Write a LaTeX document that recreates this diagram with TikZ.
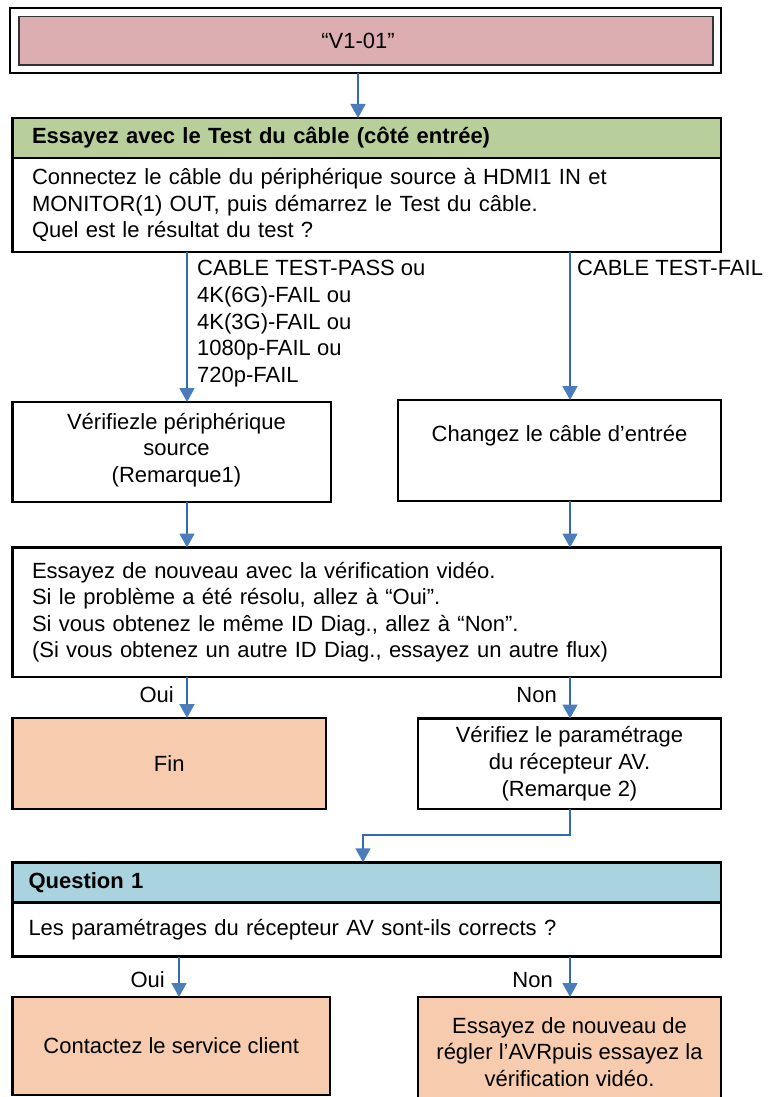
\documentclass[tikz,border=0pt]{standalone}
\usepackage{fontspec}
\setmainfont{Liberation Sans}
\usetikzlibrary{arrows.meta,calc}

\definecolor{flowline}{HTML}{2F6DAE}
\definecolor{flowtip}{HTML}{4A7DBA}
\definecolor{headpink}{HTML}{DDAEB1}
\definecolor{headgreen}{HTML}{B8CE9B}
\definecolor{headcyan}{HTML}{A9D3DF}
\definecolor{endpeach}{HTML}{F7CBAD}

\begin{document}
\begin{tikzpicture}[x=1pt,y=-1pt,
  font=\fontsize{22}{26.6}\selectfont,
  box/.style={draw=black,line width=2.6pt,inner sep=0pt,outer sep=0pt,align=center},
  leftbox/.style={box,inner xsep=19.5pt,text width=669.5pt,align=left},
  qbox/.style={box,inner xsep=16pt,text width=676.5pt,align=left},
  arr/.style={draw=flowline,line width=1.8pt,-{Triangle[width=15pt,length=14pt,color=flowtip]}},
  lbl/.style={inner sep=0pt,align=left}
]
\clip (0,0) rectangle (769,1097);
\fill[white] (0,0) rectangle (769,1097);

% connector columns
\coordinate (cT) at (358,0);
\coordinate (cL) at (187,0);
\coordinate (cR) at (570,0);
\coordinate (cQ) at (363,0);
\coordinate (cB) at (179,0);
\coordinate (bend) at (0,835);

% start code box (double frame)
\node[box,minimum width=711pt,minimum height=65pt] (top) at (365.5,40.5) {};
\node[draw=black!80,line width=1.4pt,fill=headpink,inner sep=0pt,
      minimum width=694pt,minimum height=48.3pt] (topin) at (366,40.85) {};
\node[inner sep=0pt] (code) at (358,41) {“V1-01”};

% cable test block
\node[leftbox,fill=headgreen,minimum height=40pt,font=\fontsize{22}{26.6}\selectfont\bfseries]
  (hdr) at (366.75,138) {Essayez avec le Test du câble (côté entrée)};
\node[leftbox,minimum height=94pt] (body) at (366.75,205)
  {Connectez le câble du périphérique source à HDMI1 IN et\\
   MONITOR(1) OUT, puis démarrez le Test du câble.\\
   Quel est le résultat du test ?};

% outcomes of the cable test
\node[lbl,anchor=north west] (passlbl) at (197,260.3)
  {CABLE TEST-PASS ou\\4K(6G)-FAIL ou\\4K(3G)-FAIL ou\\1080p-FAIL ou\\720p-FAIL};
\node[lbl,anchor=north west] (faillbl) at (577,260.3) {CABLE TEST-FAIL};

\node[box,minimum width=318.5pt,minimum height=100pt] (lbox) at (171.75,452) {};
\node[inner sep=0pt,align=center] (lboxtext) at (176.5,450)
  {Vérifiezle périphérique\\source\\(Remarque1)};
\node[box,minimum width=323pt,minimum height=101pt] (rbox) at (559.5,450.5)
  {Changez le câble d’entrée\\\strut};

% retry block
\node[leftbox,minimum height=129.5pt] (retry) at (366.75,612.25)
  {Essayez de nouveau avec la vérification vidéo.\\
   Si le problème a été résolu, allez à “Oui”.\\
   Si vous obtenez le même ID Diag., allez à “Non”.\\
   (Si vous obtenez un autre ID Diag., essayez un autre flux)};

\node[box,fill=endpeach,minimum width=313.5pt,minimum height=91pt] (fin) at (169.25,763.5) {Fin};
\node[box,minimum width=303pt,minimum height=90.5pt] (avr) at (569.5,763.75)
  {Vérifiez le paramétrage\\du récepteur AV.\\(Remarque 2)};

% question block
\node[qbox,fill=headcyan,minimum height=40.5pt,font=\fontsize{22}{26.6}\selectfont\bfseries]
  (qhdr) at (366.75,882.5) {Question 1};
\node[qbox,minimum height=54.5pt] (qbody) at (366.75,929.5)
  {Les paramétrages du récepteur AV sont-ils corrects ?};

\node[box,fill=endpeach,minimum width=317.5pt,minimum height=98pt] (client) at (171.25,1046)
  {Contactez le service client};
\node[box,fill=endpeach,minimum width=303pt,minimum height=110pt] (retryavr) at (569.5,1052)
  {Essayez de nouveau de\\régler l’AVRpuis essayez la\\vérification vidéo.};

% connectors
\draw[arr] (cT |- top.south) -- (cT |- hdr.north);
\draw[arr] (cL |- body.south) -- (cL |- lbox.north);
\draw[arr] (cR |- body.south) -- (cR |- rbox.north);
\draw[arr] (cL |- lbox.south) -- (cL |- retry.north);
\draw[arr] (cR |- rbox.south) -- (cR |- retry.north);
\draw[arr] (cL |- retry.south) -- (cL |- fin.north);
\draw[arr] (cR |- retry.south) -- (cR |- avr.north);
\draw[arr] (cR |- avr.south) -- (cR |- bend) -- (cQ |- bend) -- (cQ |- qhdr.north);
\draw[arr] (cB |- qbody.south) -- (cB |- client.north);
\draw[arr] (cR |- qbody.south) -- (cR |- retryavr.north);

% branch labels
\node[lbl,anchor=east] (oui1) at (174,695) {Oui};
\node[lbl,anchor=east] (non1) at (557,695) {Non};
\node[lbl,anchor=east] (oui2) at (165,980) {Oui};
\node[lbl,anchor=east] (non2) at (553,980) {Non};
\end{tikzpicture}
\end{document}
